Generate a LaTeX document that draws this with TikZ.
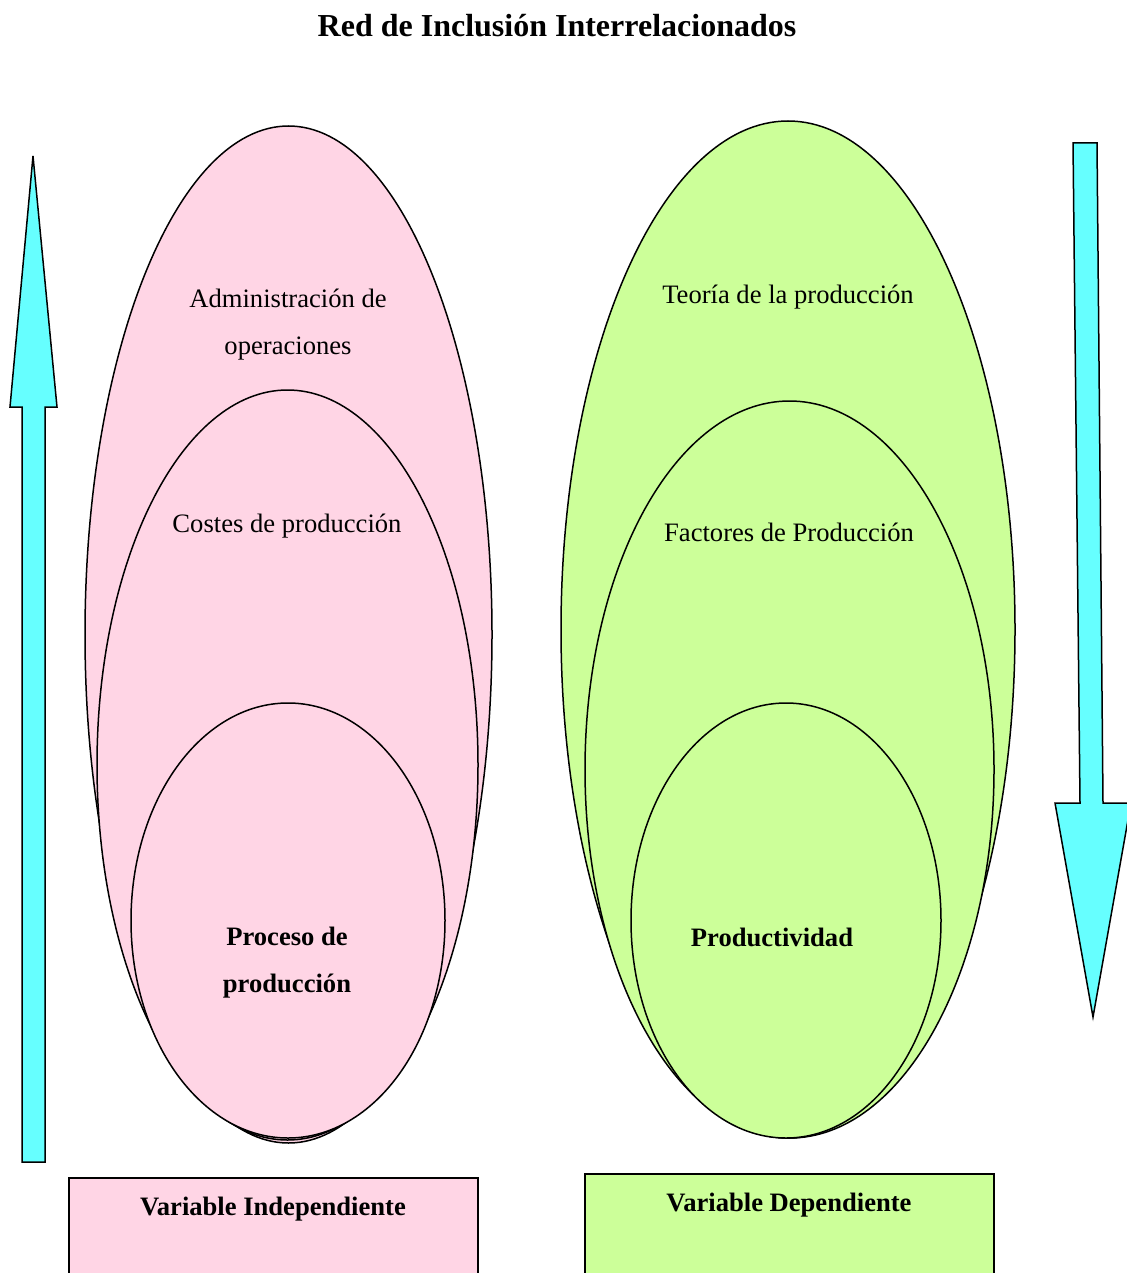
\documentclass[tikz,border=0pt]{standalone}
\usepackage{fontspec}
\setmainfont{Liberation Serif}
\usepackage{tikz}
\usetikzlibrary{shapes.geometric, positioning}
\definecolor{IND}{HTML}{FFD5E5}
\definecolor{DEP}{HTML}{CCFF99}
\definecolor{ARR}{HTML}{66FFFF}
\tikzset{
  OVAL/.style={% Style for the inclusion ovals
      ellipse, inner sep=0pt,
      line width=0.75pt,
      draw=black,
  },
  VAR/.style={% Style for the variable boxes
      rectangle,
      line width=0.75pt,
      draw=black,
  },
  TXT/.style={% Plain labels inside the ovals
      align=center,
      font=\fontsize{13.3}{23.5}\selectfont,
  },
  BTXT/.style={% Bold labels
      TXT,
      font=\fontsize{13.3}{23.5}\selectfont\bfseries,
  },
  ARROW/.style={% Block arrows at the sides
      fill=ARR, draw=black,
      line width=0.75pt,
      line join=miter,
  }
}

\begin{document}
\begin{tikzpicture}[x=0.5pt,y=-0.5pt]
    \useasboundingbox (0,0) rectangle (1126,1273);
    \node[font=\fontsize{16}{19}\selectfont\bfseries] (Title) at (557,26) {Red de Inclusión Interrelacionados};
    % left side - independent variable
    \node[OVAL, fill=IND, minimum width=203.5pt, minimum height=508.5pt] (indA) at (288.5,634.5) {};
    \node[OVAL, fill=IND, minimum width=190.5pt, minimum height=375pt] (indB) at (287.5,765) {};
    \node[OVAL, fill=IND, minimum width=157pt, minimum height=217.5pt] (indC) at (288,920.5) {};
    \node[TXT] (indAtxt) at (288,325) {Administración de\\operaciones};
    \node[TXT] (indBtxt) at (287,526) {Costes de producción};
    \node[BTXT] (indCtxt) at (287,963) {Proceso de\\producción};
    % right side - dependent variable
    \node[OVAL, fill=DEP, minimum width=227pt, minimum height=508.5pt] (depA) at (788,629.5) {};
    \node[OVAL, fill=DEP, minimum width=204.5pt, minimum height=368.5pt] (depB) at (789.5,769.5) {};
    \node[OVAL, fill=DEP, minimum width=155pt, minimum height=217.5pt] (depC) at (786,920.5) {};
    \node[TXT] (depAtxt) at (788,297) {Teoría de la producción};
    \node[TXT] (depBtxt) at (789,532) {Factores de Producción};
    \node[BTXT] (depCtxt) at (772,937) {Productividad};
    % variable boxes, cut by the page edge
    \draw[VAR, fill=IND] (69,1178) rectangle (478,1290);
    \draw[VAR, fill=DEP] (585,1174) rectangle (994,1290);
    \node[BTXT] (indVar) at (273,1209) {Variable Independiente};
    \node[BTXT] (depVar) at (789,1205) {Variable Dependiente};
    % side arrows
    \draw[ARROW] (22,1162) -- (22,407) -- (10,407) -- (33,156) -- (57,407)
      -- (45,407) -- (45,1162) -- cycle;
    \draw[ARROW] (1073,143) -- (1097,143) -- (1103,803) -- (1131,803)
      -- (1093,1017) -- (1055,803) -- (1080,803) -- cycle;
\end{tikzpicture}
\end{document}
